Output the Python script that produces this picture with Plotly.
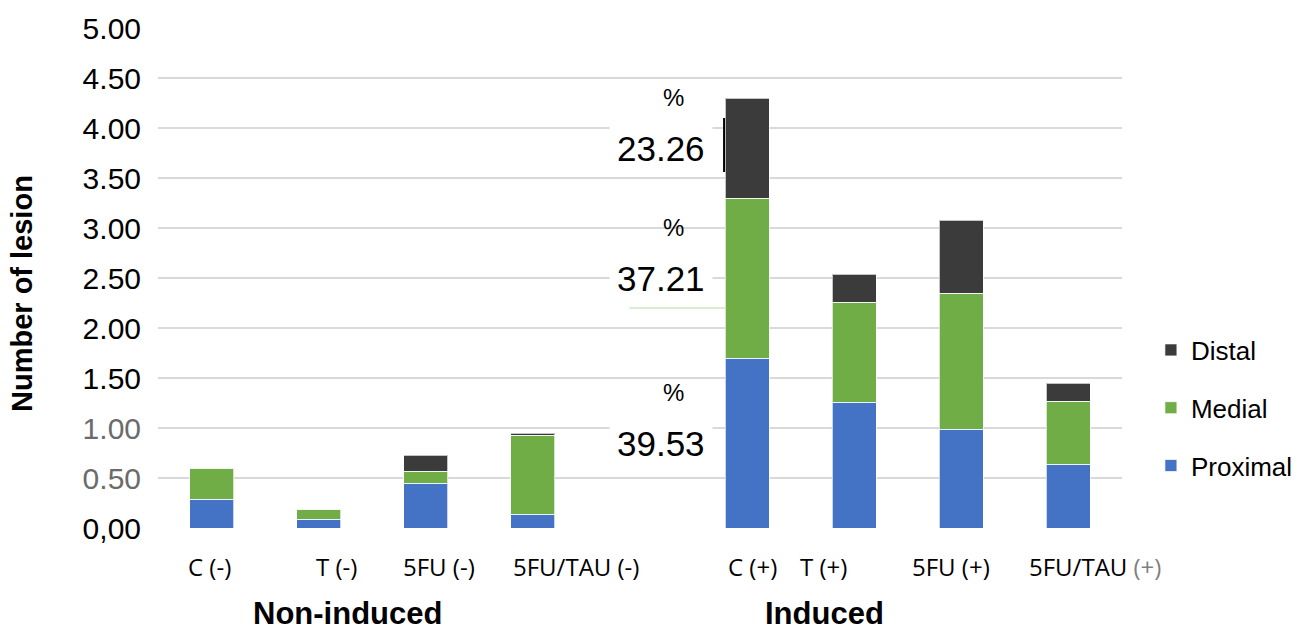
import plotly.graph_objects as go

# Treatment groups (non-induced and induced) and lesion counts by colon segment
non_induced = ["C (-)", "T (-)", "5FU (-)", "5FU/TAU (-)"]
induced = ["C (+)", "T (+)", "5FU (+)", "5FU/TAU (+)"]
tick_labels_shown = non_induced + ["C (+)", "T (+)", "5FU (+)",
                                   "5FU/TAU <span style='color:#7f7f7f'>(+)</span>"]

proximal = [0.29, 0.09, 0.45, 0.14, 1.70, 1.26, 0.99, 0.64]
medial = [0.31, 0.10, 0.12, 0.79, 1.60, 1.00, 1.36, 0.63]
distal = [0.00, 0.00, 0.16, 0.02, 1.00, 0.28, 0.73, 0.18]

y_ticks = [0, 0.5, 1, 1.5, 2, 2.5, 3, 3.5, 4, 4.5, 5]
y_tick_text = ["0,00", "<span style='color:#6b6b6b'>0.50</span>",
               "<span style='color:#6b6b6b'>1.00</span>", "1.50", "2.00",
               "2.50", "3.00", "3.50", "4.00", "4.50", "5.00"]

# bar slots: one empty slot separates the two groups
x_pos = list(range(len(non_induced))) + [len(non_induced) + 1 + i for i in range(len(induced))]
# horizontal nudge (px) of each category label relative to its bar
label_nudge = [-2, 18, 13, 43, 5, -31, -10, 27]

BLUE = "#4472C4"
GREEN = "#70AD47"
DARK = "#3b3b3b"
BAR_W = 0.41
edge = dict(color="rgba(255,255,255,0.7)", width=1)
FONT = "Liberation Sans, Arial"

fig = go.Figure()
for name, vals, col, rank in [("Proximal", proximal, BLUE, 3),
                              ("Medial", medial, GREEN, 2),
                              ("Distal", distal, DARK, 1)]:
    fig.add_trace(go.Bar(x=x_pos, y=vals, name=name, marker=dict(color=col, line=edge),
                         width=BAR_W, legendgroup=name, legendrank=rank))

# percentage share of each segment for the induced control bar
ci = len(non_induced)
c_x = x_pos[ci]
total = proximal[ci] + medial[ci] + distal[ci]
base = 0.0
for seg in [proximal[ci], medial[ci], distal[ci]]:
    pct = seg / total * 100
    mid = base + seg / 2
    fig.add_annotation(x=c_x, y=mid, xref="x", yref="y", text=f"{pct:.2f}",
                       showarrow=False, xshift=-86, bgcolor="white", borderpad=7,
                       font=dict(family=FONT, size=35, color="black"))
    fig.add_annotation(x=c_x, y=mid, xref="x", yref="y", text="%",
                       showarrow=False, xshift=-74, yshift=51,
                       font=dict(family=FONT, size=24, color="black"))
    base += seg

# bracket mark beside the distal share
fig.add_shape(type="line", xref="x", yref="y",
              x0=c_x - BAR_W / 2 - 0.01, x1=c_x - BAR_W / 2 - 0.01, y0=3.56, y1=4.10,
              line=dict(color="black", width=2))
fig.add_shape(type="line", xref="x", yref="y",
              x0=c_x - 1.1, x1=c_x - BAR_W / 2, y0=2.2, y1=2.2,
              line=dict(color="#b9d9a5", width=1))

# category labels
for xp, lab, dx in zip(x_pos, tick_labels_shown, label_nudge):
    fig.add_annotation(x=xp, y=0, xref="x", yref="paper", yanchor="middle", yshift=-38,
                       xshift=dx, text=lab, showarrow=False,
                       font=dict(family="Open Sans", size=24, color="black"))

# group labels under the category axis
for txt, xc in [("Non-induced", 1.27), ("Induced", 5.72)]:
    fig.add_annotation(x=xc, y=0, xref="x", yref="paper", yanchor="top", yshift=-66,
                       text=f"<b>{txt}</b>", showarrow=False,
                       font=dict(family=FONT, size=31, color="black"))

# y-axis title
fig.add_annotation(x=0, y=0.468, xref="paper", yref="paper", xanchor="center",
                   yanchor="middle", xshift=-136,
                   text="<b>Number of lesion</b>", textangle=-90, showarrow=False,
                   font=dict(family=FONT, size=29, color="black"))

fig.update_layout(
    width=1314, height=637,
    margin=dict(l=158, r=192, t=28, b=109),
    plot_bgcolor="white", paper_bgcolor="white",
    barmode="stack",
    showlegend=True,
    legend=dict(x=1.03, y=0.24, xanchor="left", yanchor="middle",
                traceorder="grouped", tracegroupgap=21,
                font=dict(family=FONT, size=26, color="black"),
                bgcolor="rgba(0,0,0,0)"),
    xaxis=dict(range=[-0.5, 8.5], tickmode="array", tickvals=x_pos,
               showticklabels=False, showgrid=False, zeroline=False,
               showline=False, ticks=""),
    yaxis=dict(range=[0, 5], tickmode="array", tickvals=y_ticks, ticktext=y_tick_text,
               showgrid=True, gridcolor="#d9d9d9", gridwidth=2, zeroline=False,
               showline=False, ticks="", ticklabelstandoff=16,
               tickfont=dict(family=FONT, size=30, color="black")),
)

fig.write_html("out.html")
